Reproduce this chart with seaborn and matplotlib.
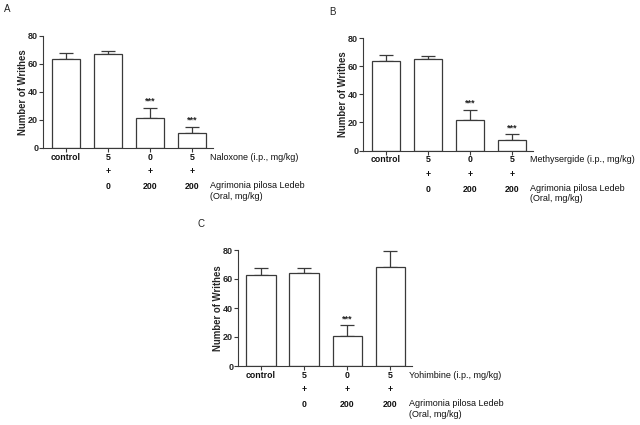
import matplotlib
matplotlib.use("Agg")
import matplotlib.pyplot as plt
import seaborn as sns
import pandas as pd
import numpy as np

# ---- data ----
groups = ["control", "g2", "g3", "g4"]
row1_A = ["control", "5", "0", "5"]
row1_B = ["control", "5", "0", "5"]
row1_C = ["control", "5", "0", "5"]
row2 = ["", "+", "+", "+"]
row3 = ["", "0", "200", "200"]

mean_A = [63.3, 66.9, 21.4, 10.5]
sem_A = [4.8, 2.4, 7.4, 4.7]
sig_A = ["", "", "***", "***"]

mean_B = [63.6, 65.1, 21.6, 7.4]
sem_B = [4.6, 2.4, 7.4, 4.0]
sig_B = ["", "", "***", "***"]

mean_C = [62.9, 63.8, 21.0, 68.2]
sem_C = [4.6, 3.7, 7.2, 11.1]
sig_C = ["", "", "***", ""]

drug_A = "Naloxone (i.p., mg/kg)"
drug_B = "Methysergide (i.p., mg/kg)"
drug_C = "Yohimbine (i.p., mg/kg)"
agri = "Agrimonia pilosa Ledeb\n(Oral, mg/kg)"
ylabel = "Number of Writhes"
yticks = [0, 20, 40, 60, 80]

sns.set_style("ticks")
plt.rcParams["font.family"] = ["Liberation Sans", "DejaVu Sans"]

W, H = 640, 425
fig = plt.figure(figsize=(6.4, 4.25), dpi=100)

def px_axes(l, r, t, b):
    return fig.add_axes([l / W, 1 - b / H, (r - l) / W, (b - t) / H])

EDGE = "#3a3a3a"

def panel(ax, means, sems, sigs, row1, drug, xl):
    df = pd.DataFrame({"group": groups, "value": means})
    sns.barplot(data=df, x="group", y="value", order=groups, color="white",
                edgecolor=EDGE, linewidth=0.9, width=0.68, errorbar=None, ax=ax,
                saturation=1)
    x = np.arange(len(groups))
    ax.errorbar(x, means, yerr=[np.zeros(len(sems)), sems], fmt="none",
                ecolor=EDGE, elinewidth=0.9, capsize=5, capthick=0.9, zorder=1)
    for p in ax.patches:
        p.set_zorder(2)
    for i, s in enumerate(sigs):
        if s:
            ax.text(i, means[i] + sems[i] + 1.2, s, ha="center", va="bottom",
                    fontsize=6.5, fontweight="bold", color="#222")
    ax.set_xlim(xl)
    ax.set_ylim(0, 80)
    ax.set_yticks(yticks)
    ax.set_yticklabels([str(v) for v in yticks], fontsize=6.5, fontweight="bold")
    ax.set_xticks(x)
    ax.set_xticklabels([])
    ax.tick_params(axis="both", length=3, width=0.8, color=EDGE)
    ax.tick_params(axis="y", pad=0.5)
    ax.set_xlabel("")
    ax.set_ylabel(ylabel, fontsize=6.9, fontweight="bold", labelpad=0)
    sns.despine(ax=ax)
    for sp in ["left", "bottom"]:
        ax.spines[sp].set_linewidth(0.8)
        ax.spines[sp].set_color(EDGE)
    offs = [9.5, 23.5, 38.5]
    for i in range(len(groups)):
        for lab, off in zip([row1[i], row2[i], row3[i]], offs):
            if lab:
                ax.annotate(lab, xy=(i, 0), xycoords=("data", "axes fraction"),
                            xytext=(0, -off * 0.72), textcoords="offset points",
                            ha="center", va="center", fontsize=6.3,
                            fontweight="bold", color="#111")
    ax.annotate(drug, xy=(1.0, 0), xycoords="axes fraction",
                xytext=(-2.2, -offs[0] * 0.72), textcoords="offset points",
                ha="left", va="center", fontsize=6.5, color="#111")
    ax.annotate(agri, xy=(1.0, 0), xycoords="axes fraction",
                xytext=(-2.2, -(offs[2] - 5) * 0.72), textcoords="offset points",
                ha="left", va="top", fontsize=6.5, color="#111", linespacing=1.15)

axA = px_axes(43, 213, 36, 148)
panel(axA, mean_A, sem_A, sig_A, row1_A, drug_A, (-0.55, 3.5))
axB = px_axes(363, 533, 38, 150.5)
panel(axB, mean_B, sem_B, sig_B, row1_B, drug_B, (-0.55, 3.5))
axC = px_axes(238, 412, 250, 366)
panel(axC, mean_C, sem_C, sig_C, row1_C, drug_C, (-0.53, 3.5))

fig.text(7 / W, 1 - 9 / H, "A", fontsize=7, ha="center", va="center", color="#222")
fig.text(332 / W, 1 - 12 / H, "B", fontsize=7, ha="center", va="center", color="#222")
fig.text(201 / W, 1 - 224 / H, "C", fontsize=7, ha="center", va="center", color="#222")

fig.savefig("out.png", dpi=100, facecolor="white")
